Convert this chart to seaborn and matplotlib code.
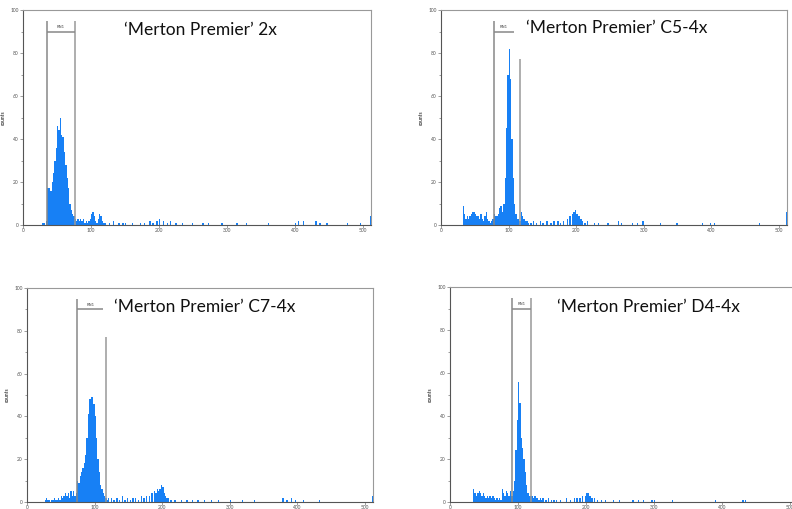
import matplotlib
matplotlib.use("Agg")
import matplotlib.pyplot as plt
from matplotlib.ticker import MultipleLocator
import seaborn as sns

# ---- data: counts per channel (2-channel bins) ----
titles = ["\u2018Merton Premier\u2019 2x", "\u2018Merton Premier\u2019 C5-4x",
          "\u2018Merton Premier\u2019 C7-4x", "\u2018Merton Premier\u2019 D4-4x"]

# 2x
p1_peak_ch = list(range(26, 122, 2))
p1_peak = [0, 1, 1, 0, 2, 17, 17, 16, 20, 24, 30, 36, 46, 44, 50, 42, 41, 34, 28, 22,
           17, 10, 7, 5, 4, 3, 2, 3, 2, 3, 2, 3, 1, 2, 1, 2, 3, 5, 6, 4, 2, 1, 3, 5, 4, 2, 1, 1]
p1_tail_ch = [126, 132, 140, 146, 150, 160, 172, 178, 186, 190, 196, 200, 206, 212, 216, 224,
              234, 248, 264, 272, 292, 314, 328, 360, 400, 404, 412, 430, 436, 446, 476, 496, 510]
p1_tail = [1, 2, 1, 1, 1, 1, 1, 1, 2, 1, 2, 3, 2, 1, 2, 1, 1, 1, 1, 1, 1, 1, 1, 1, 1, 2, 2, 2,
           1, 1, 1, 1, 4]

# C5-4x
p2_peak_ch = list(range(30, 130, 2))
p2_peak = [0, 9, 5, 3, 4, 3, 4, 5, 6, 6, 5, 4, 4, 3, 5, 3, 2, 4, 6, 3, 2, 1, 2, 3, 5, 4, 4, 5,
           8, 9, 6, 10, 22, 45, 70, 82, 68, 40, 22, 10, 5, 3, 3, 2, 6, 4, 3, 2, 2, 1]
p2_tail_ch = [132, 136, 140, 146, 150, 156, 162, 166, 172, 176, 180, 186, 190, 194, 196, 198,
              200, 202, 204, 206, 208, 212, 216, 226, 232, 246, 262, 266, 282, 290, 298, 324,
              348, 386, 398, 404, 470, 510]
p2_tail = [1, 2, 1, 2, 1, 2, 1, 2, 2, 1, 2, 3, 4, 5, 6, 7, 5, 4, 4, 3, 2, 1, 2, 1, 1, 1, 2, 1,
           1, 1, 2, 1, 1, 1, 1, 1, 1, 6]

# C7-4x
p3_peak_ch = list(range(24, 122, 2))
p3_peak = [0, 1, 2, 1, 1, 0, 1, 1, 2, 1, 1, 2, 1, 3, 2, 3, 4, 3, 4, 2, 5, 3, 5, 3, 4, 10, 9,
           12, 14, 16, 18, 22, 30, 41, 48, 49, 49, 46, 40, 30, 20, 14, 8, 6, 4, 3, 2, 1, 2]
p3_tail_ch = [124, 128, 132, 136, 140, 144, 148, 152, 156, 160, 164, 168, 172, 176, 180, 184,
              188, 190, 192, 194, 196, 198, 200, 202, 204, 206, 208, 212, 218, 228, 236, 244,
              252, 262, 272, 282, 300, 318, 336, 378, 384, 390, 396, 408, 432, 510]
p3_tail = [2, 1, 2, 1, 3, 1, 2, 1, 2, 2, 1, 3, 2, 3, 3, 4, 5, 4, 6, 5, 6, 8, 7, 4, 3, 2, 2, 1,
           1, 1, 1, 1, 1, 1, 1, 1, 1, 1, 1, 2, 1, 2, 1, 1, 1, 3]

# D4-4x
p4_peak_ch = list(range(32, 122, 2))
p4_peak = [0, 6, 4, 3, 4, 5, 4, 3, 4, 3, 2, 3, 2, 3, 2, 3, 2, 1, 2, 1, 2, 1, 6, 4, 3, 5, 4,
           3, 5, 3, 5, 10, 24, 38, 56, 46, 30, 25, 20, 14, 8, 4, 3, 3, 3]
p4_tail_ch = [122, 124, 126, 128, 130, 132, 134, 136, 140, 144, 148, 152, 156, 162, 170, 176,
              182, 186, 190, 194, 198, 200, 202, 204, 206, 208, 212, 216, 222, 228, 240, 248,
              268, 276, 284, 296, 300, 326, 390, 430, 434]
p4_tail = [2, 3, 2, 2, 1, 2, 1, 2, 1, 2, 1, 1, 1, 1, 2, 1, 2, 2, 2, 3, 3, 4, 4, 3, 3, 2, 2, 1,
           1, 1, 1, 1, 1, 1, 1, 1, 1, 1, 1, 1, 1]

channels = [p1_peak_ch + p1_tail_ch, p2_peak_ch + p2_tail_ch,
            p3_peak_ch + p3_tail_ch, p4_peak_ch + p4_tail_ch]
counts = [p1_peak + p1_tail, p2_peak + p2_tail, p3_peak + p3_tail, p4_peak + p4_tail]

# gates: (left line, right line, bar end, right line height)
gates = [(35, 76, 76, 95), (78, 117, 108, 77), (74, 117, 113, 77), (91, 119, 119, 95)]

# axes boxes in pixels: left, top, right, bottom
W, H = 792, 509
boxes = [(23, 10, 371, 225), (441, 10, 787, 225), (27, 288, 373, 502), (450, 287, 798, 502)]
title_pos = [(200, 30), (617, 28), (205, 307), (648, 307)]

sns.set_style("white")
plt.rcParams['font.family'] = ['Lato', 'DejaVu Sans']

fig = plt.figure(figsize=(W / 100, H / 100), dpi=100)

for i in range(4):
    l, t, r, b = boxes[i]
    ax = fig.add_axes([l / W, (H - b) / H, (r - l) / W, (b - t) / H])
    sns.histplot(x=channels[i], weights=counts[i], binwidth=2, binrange=(0, 512),
                 color='#1780f5', edgecolor='#1780f5', linewidth=0, alpha=1, ax=ax)
    ax.set_xlim(0, 512)
    ax.set_ylim(0, 100)
    ax.xaxis.set_major_locator(MultipleLocator(100))
    ax.yaxis.set_major_locator(MultipleLocator(20))
    ax.yaxis.set_minor_locator(MultipleLocator(10))
    ax.tick_params(axis='both', which='major', labelsize=3.5, labelcolor='#555555',
                   length=2, width=0.5, color='#777777', pad=1, bottom=True, left=True)
    ax.tick_params(axis='x', which='major', pad=0.5)
    ax.tick_params(axis='y', which='minor', length=1.2, width=0.5, color='#777777', left=True)
    ax.set_xlabel('')
    ax.set_ylabel('counts', fontsize=3.5, color='#444444', labelpad=3, fontweight='bold')
    for side in ['left', 'bottom']:
        ax.spines[side].set_color('#555555')
        ax.spines[side].set_linewidth(0.8)
    for side in ['top', 'right']:
        ax.spines[side].set_color('#999999')
        ax.spines[side].set_linewidth(0.8)

    g_left, g_right, bar_end, r_h = gates[i]
    ax.vlines(g_left, 0, 95, color='#888888', lw=1.1)
    ax.vlines(g_right, 0, r_h, color='#999999', lw=1.1)
    ax.hlines(90, g_left, bar_end, color='#888888', lw=1.1)
    ax.text((g_left + bar_end) / 2, 91, 'RN1', fontsize=3, color='#444444',
            ha='center', va='bottom')

    tx, ty = title_pos[i]
    fig.text(tx / W, (H - ty) / H, titles[i], fontsize=12.5, color='#111111',
             ha='center', va='center')

fig.savefig('out.png', dpi=100)
